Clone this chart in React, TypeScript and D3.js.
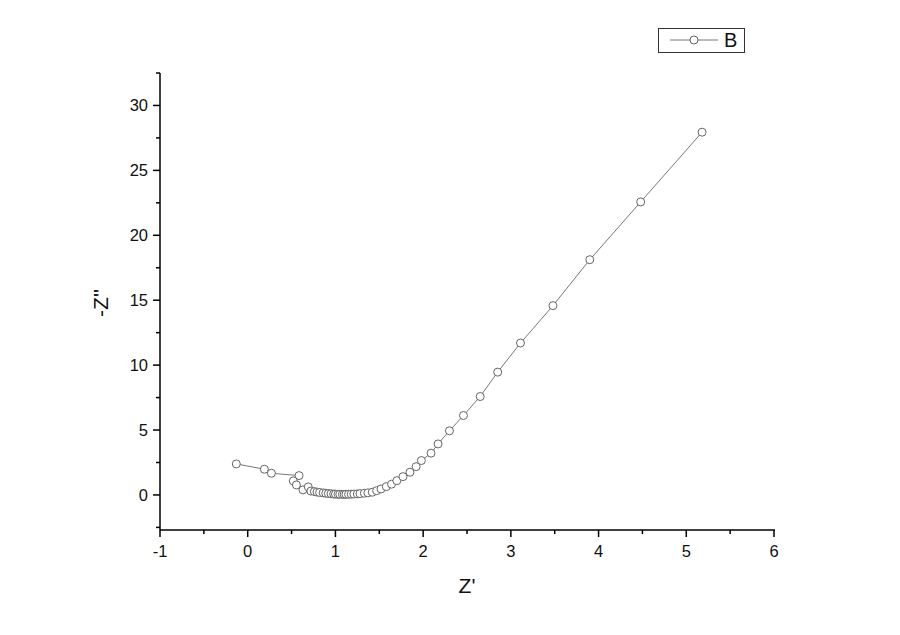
import React from "react";
import * as d3 from "d3";

const zRe = [-0.13, 0.19, 0.27, 0.585, 0.52, 0.555, 0.63, 0.69, 0.72, 0.76, 0.79, 0.82, 0.86, 0.89, 0.92, 0.95, 0.98, 1.0, 1.03, 1.05, 1.08, 1.1, 1.12, 1.15, 1.18, 1.21, 1.25, 1.28, 1.33, 1.37, 1.42, 1.47, 1.52, 1.58, 1.64, 1.7, 1.77, 1.85, 1.92, 1.98, 2.09, 2.17, 2.3, 2.46, 2.65, 2.85, 3.11, 3.48, 3.9, 4.48, 5.18];
const zIm = [2.39, 1.98, 1.67, 1.49, 1.08, 0.77, 0.39, 0.62, 0.3, 0.26, 0.22, 0.19, 0.16, 0.13, 0.11, 0.09, 0.07, 0.06, 0.05, 0.05, 0.04, 0.04, 0.05, 0.05, 0.06, 0.07, 0.08, 0.1, 0.13, 0.16, 0.21, 0.33, 0.46, 0.64, 0.83, 1.1, 1.41, 1.75, 2.18, 2.65, 3.22, 3.93, 4.94, 6.12, 7.58, 9.46, 11.7, 14.58, 18.12, 22.57, 27.94];
const xTicks = [-1, 0, 1, 2, 3, 4, 5, 6];
const xMinor = [-0.5, 0.5, 1.5, 2.5, 3.5, 4.5, 5.5];
const yTicks = [0, 5, 10, 15, 20, 25, 30];
const yMinor = [-2.5, 2.5, 7.5, 12.5, 17.5, 22.5, 27.5, 32.5];
const seriesName = "B";

export default function App() {
  const x = d3.scaleLinear().domain([-1, 6]).range([160, 774]);
  const y = d3.scaleLinear().domain([-2.7, 32.5]).range([530, 73]);
  const pts = zRe.map((v, i) => [v, zIm[i]] as [number, number]);
  const line = d3.line<[number, number]>().x(d => x(d[0])).y(d => y(d[1]));
  const font = "Arial, 'Liberation Sans', sans-serif";
  return (
    <svg width={900} height={635} style={{ position: "absolute", left: 0, top: 0, background: "#fff" }} fontFamily={font}>
      <rect width={900} height={635} fill="#fff" />
      {/* axes */}
      <line x1={160} x2={775} y1={530} y2={530} stroke="#000" strokeWidth={1.5} />
      <line x1={160} x2={160} y1={73} y2={530} stroke="#000" strokeWidth={1.5} />
      {xTicks.map(t => (
        <g key={"xt" + t}>
          <line x1={x(t)} x2={x(t)} y1={530} y2={537} stroke="#000" strokeWidth={1.5} />
          <text x={x(t)} y={557} fontSize={16.5} textAnchor="middle" fill="#111">{t}</text>
        </g>
      ))}
      {xMinor.map(t => (
        <line key={"xm" + t} x1={x(t)} x2={x(t)} y1={530} y2={534} stroke="#000" strokeWidth={1.5} />
      ))}
      {yTicks.map(t => (
        <g key={"yt" + t}>
          <line x1={153} x2={160} y1={y(t)} y2={y(t)} stroke="#000" strokeWidth={1.5} />
          <text x={148} y={y(t) + 6} fontSize={16.5} textAnchor="end" fill="#111">{t}</text>
        </g>
      ))}
      {yMinor.filter(t => y(t) >= 73 && y(t) <= 530).map(t => (
        <line key={"ym" + t} x1={156} x2={160} y1={y(t)} y2={y(t)} stroke="#000" strokeWidth={1.5} />
      ))}
      <text x={467} y={593} fontSize={21} textAnchor="middle" fill="#111">Z'</text>
      <text transform="translate(108,303) rotate(-90)" fontSize={21} textAnchor="middle" fill="#111">-Z''</text>
      {/* series */}
      <path d={line(pts) || ""} fill="none" stroke="#555" strokeWidth={0.8} />
      {pts.map((p, i) => (
        <circle key={i} cx={x(p[0])} cy={y(p[1])} r={4} fill="#fff" stroke="#555" strokeWidth={0.9} />
      ))}
      {/* legend */}
      <rect x={658.5} y={28.5} width={86} height={24} fill="#fff" stroke="#333" strokeWidth={1} />
      <line x1={670} x2={718} y1={40} y2={40} stroke="#555" strokeWidth={0.8} />
      <circle cx={694} cy={40} r={4} fill="#fff" stroke="#555" strokeWidth={0.9} />
      <text x={724} y={47} fontSize={20} fill="#111">{seriesName}</text>
    </svg>
  );
}
